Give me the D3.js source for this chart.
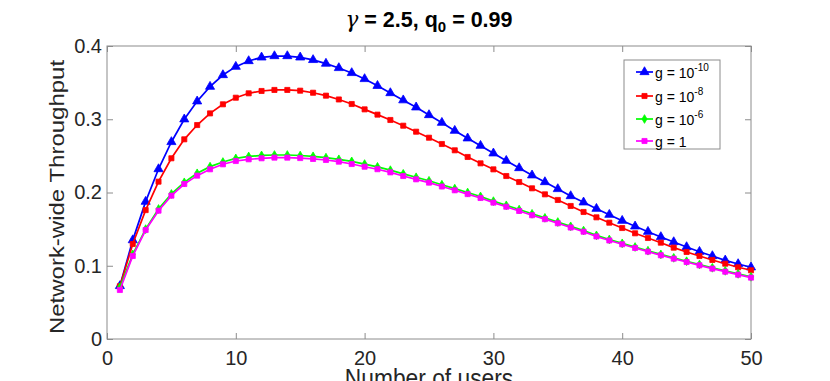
<!DOCTYPE html>
<html>
<head>
<meta charset="utf-8">
<script src="https://cdn.jsdelivr.net/npm/d3@7"></script>
<style>
  body { margin: 0; background: #fff; }
  svg { display: block; font-family: "Liberation Sans", Arial, Helvetica, sans-serif; }
  .tick text { fill: #262626; }
</style>
</head>
<body>
<div id="chart"></div>
<script>
// number of users on the x axis
var users = d3.range(1, 51);

// g = 1e-10 (blue)
var gMinus10 = [0.0724, 0.135, 0.1875, 0.232, 0.269, 0.300, 0.3245, 0.3445, 0.3604, 0.3718,
  0.3795, 0.3845, 0.3863, 0.3863, 0.3845, 0.381, 0.376, 0.370, 0.3632, 0.3550,
  0.3457, 0.3358, 0.3260, 0.3163, 0.3058, 0.2953, 0.2844, 0.274, 0.2639, 0.2535,
  0.2434, 0.2334, 0.2235, 0.2143, 0.2048, 0.1952, 0.1866, 0.1779, 0.1697, 0.1615,
  0.1538, 0.1465, 0.1393, 0.1324, 0.1256, 0.1192, 0.1133, 0.1074, 0.1024, 0.0979];

// g = 1e-8 (red)
var gMinus8 = [0.072, 0.1297, 0.176, 0.2148, 0.2467, 0.2726, 0.2921, 0.308, 0.3204, 0.3294,
  0.3354, 0.3386, 0.340, 0.340, 0.3390, 0.3362, 0.3322, 0.3270, 0.3208, 0.3135,
  0.3063, 0.299, 0.2912, 0.283, 0.2748, 0.2662, 0.2576, 0.2485, 0.2398, 0.2316,
  0.2225, 0.2143, 0.2057, 0.1975, 0.1898, 0.1816, 0.1734, 0.1661, 0.1588, 0.1515,
  0.1443, 0.1379, 0.1315, 0.1247, 0.1188, 0.1133, 0.1079, 0.1028, 0.0979, 0.0938];

// g = 1e-6 (green)
var gMinus6 = [0.0705, 0.1156, 0.150, 0.1775, 0.198, 0.2139, 0.2262, 0.2353, 0.2416, 0.2465,
  0.2492, 0.2506, 0.2512, 0.2512, 0.2505, 0.2494, 0.2476, 0.2453, 0.2425, 0.2388,
  0.2350, 0.2305, 0.2255, 0.2208, 0.2160, 0.2106, 0.2053, 0.2000, 0.1946, 0.1882,
  0.1825, 0.1767, 0.1709, 0.1654, 0.1597, 0.1538, 0.1480, 0.1415, 0.1359, 0.1306,
  0.1256, 0.1205, 0.1155, 0.1108, 0.1062, 0.1017, 0.0972, 0.0930, 0.0889, 0.0849];

// g = 1 (magenta)
var gOne = [0.0669, 0.1133, 0.1488, 0.1752, 0.1957, 0.2116, 0.223, 0.2317, 0.2385, 0.243,
  0.2453, 0.2467, 0.2476, 0.2476, 0.247, 0.2458, 0.2444, 0.2421, 0.2389, 0.2352,
  0.2318, 0.2275, 0.2225, 0.218, 0.2135, 0.2082, 0.2030, 0.1978, 0.1925, 0.1862,
  0.1806, 0.1748, 0.1690, 0.1636, 0.1580, 0.1522, 0.1465, 0.1400, 0.1345, 0.1293,
  0.1243, 0.1193, 0.1143, 0.1097, 0.1051, 0.1006, 0.0961, 0.0919, 0.0878, 0.0838];

var xTicks = [0, 10, 20, 30, 40, 50];
var yTicks = [0, 0.1, 0.2, 0.3, 0.4];

var series = [
  {name: 'g = 10', sup: '-10', color: '#0000ff', values: gMinus10, shape: d3.symbolTriangle, size: 36},
  {name: 'g = 10', sup: '-8', color: '#ff0000', values: gMinus8, shape: d3.symbolSquare, size: 26},
  {name: 'g = 10', sup: '-6', color: '#00ff00', values: gMinus6, shape: d3.symbolDiamond, size: 22},
  {name: 'g = 1', sup: '', color: '#ff00ff', values: gOne, shape: d3.symbolSquare, size: 26}
];

var W = 830, H = 381;
var m = {left: 107, right: 751, top: 46, bottom: 339};

var svg = d3.select('#chart').append('svg')
  .attr('width', W).attr('height', H);

var x = d3.scaleLinear().domain([0, 50]).range([m.left, m.right]);
var y = d3.scaleLinear().domain([0, 0.4]).range([m.bottom, m.top]);

// box
svg.append('rect')
  .attr('x', m.left).attr('y', m.top)
  .attr('width', m.right - m.left).attr('height', m.bottom - m.top)
  .attr('fill', 'none').attr('stroke', '#8c8c8c').attr('stroke-width', 1);

var axisColor = '#8c8c8c';
function styleAxis(g) {
  g.select('.domain').remove();
  g.selectAll('.tick line').attr('stroke', axisColor);
  g.selectAll('.tick text').attr('font-size', 20);
}

svg.append('g')
  .attr('transform', 'translate(0,' + m.bottom + ')')
  .call(d3.axisBottom(x).tickValues(xTicks).tickSize(-6).tickPadding(12).tickFormat(d3.format('d')))
  .call(styleAxis);

svg.append('g')
  .attr('transform', 'translate(0,' + m.top + ')')
  .call(d3.axisTop(x).tickValues(xTicks).tickSize(-6).tickFormat(''))
  .call(styleAxis);

svg.append('g')
  .attr('transform', 'translate(' + m.left + ',0)')
  .call(d3.axisLeft(y).tickValues(yTicks).tickSize(-6).tickPadding(5)
    .tickFormat(function(d) { return d === 0 ? '0' : d3.format('.1f')(d); }))
  .call(styleAxis);

svg.append('g')
  .attr('transform', 'translate(' + m.right + ',0)')
  .call(d3.axisRight(y).tickValues(yTicks).tickSize(-6).tickFormat(''))
  .call(styleAxis);

// lines + markers
var line = d3.line()
  .x(function(d, i) { return x(users[i]); })
  .y(function(d) { return y(d); });

series.forEach(function(s) {
  var g = svg.append('g');
  g.append('path')
    .attr('d', line(s.values))
    .attr('fill', 'none')
    .attr('stroke', s.color)
    .attr('stroke-width', 1.7);
  g.selectAll('path.mk')
    .data(s.values)
    .enter().append('path')
      .attr('class', 'mk')
      .attr('d', d3.symbol().type(s.shape).size(s.size))
      .attr('transform', function(d, i) { return 'translate(' + x(users[i]) + ',' + y(d) + ')'; })
      .attr('fill', s.color)
      .attr('stroke', s.color)
      .attr('stroke-width', 0.8);
});

// title
var title = svg.append('text')
  .attr('x', (m.left + m.right) / 2).attr('y', 27)
  .attr('text-anchor', 'middle')
  .attr('font-size', 21.5).attr('font-weight', 'bold').attr('fill', '#000');
title.append('tspan').attr('font-family', '"DejaVu Serif", serif').attr('font-style', 'italic')
  .attr('font-weight', 'normal').text('\u03b3');
title.append('tspan').text(' = 2.5, q');
title.append('tspan').attr('font-size', 15).attr('dy', 5).text('0');
title.append('tspan').attr('dy', -5).text(' = 0.99');

// axis labels (slightly narrow, like the source rendering)
svg.append('text')
  .attr('transform', 'translate(' + ((m.left + m.right) / 2) + ',387) scale(0.876,1)')
  .attr('text-anchor', 'middle').attr('font-size', 26).attr('fill', '#262626')
  .text('Number of users');

svg.append('text')
  .attr('transform', 'translate(64,197) rotate(-90) scale(1,0.876)')
  .attr('text-anchor', 'middle').attr('font-size', 24).attr('fill', '#262626')
  .text('Network-wide Throughput');

// legend
var lg = svg.append('g');
lg.append('rect')
  .attr('x', 624).attr('y', 60).attr('width', 96).attr('height', 89)
  .attr('fill', '#fff').attr('stroke', '#8c8c8c');
var rowY = [72, 96, 119, 141];
series.forEach(function(s, i) {
  var ry = rowY[i];
  lg.append('line')
    .attr('x1', 636).attr('x2', 653).attr('y1', ry).attr('y2', ry)
    .attr('stroke', s.color).attr('stroke-width', 1.7);
  lg.append('path')
    .attr('d', d3.symbol().type(s.shape).size(s.size))
    .attr('transform', 'translate(644.5,' + ry + ')')
    .attr('fill', s.color).attr('stroke', s.color).attr('stroke-width', 0.8);
  var t = lg.append('text')
    .attr('x', 655).attr('y', ry + 6)
    .attr('font-size', 14).attr('fill', '#000');
  t.append('tspan').text(s.name);
  if (s.sup) {
    t.append('tspan').attr('font-size', 10).attr('dy', -7).text(s.sup);
  }
});
</script>
</body>
</html>
